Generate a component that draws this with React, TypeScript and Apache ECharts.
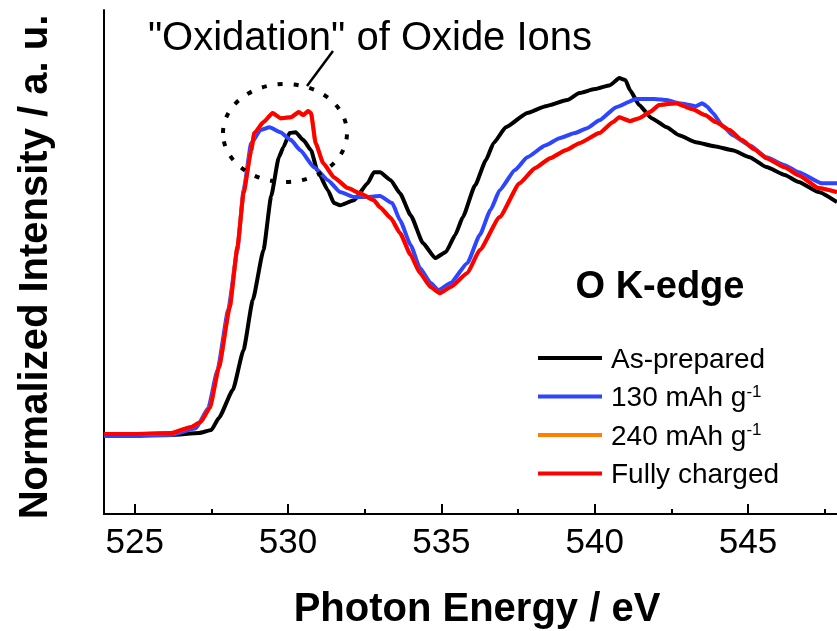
import React, { useEffect, useRef } from 'react';
import * as echarts from 'echarts';

// Photon energy (eV) and normalized intensity (a.u.)
const asPreparedE = [524.0, 525.0, 526.2, 527.1, 527.5, 527.75, 528.2, 528.55, 528.85, 529.2, 529.45, 529.7, 529.85, 530.05, 530.25, 530.5, 530.75, 530.95, 531.3, 531.5, 531.7, 532.15, 532.6, 532.8, 533.0, 533.35, 533.65, 534.0, 534.4, 534.8, 535.15, 535.45, 535.7, 536.1, 536.45, 536.7, 537.1, 537.8, 538.4, 539.1, 539.5, 540.0, 540.5, 540.8, 541.0, 541.15, 541.45, 541.85, 542.35, 542.75, 543.3, 543.9, 544.5, 545.05, 545.6, 546.2, 546.65, 547.3, 547.9];
const asPreparedI = [0.009, 0.009, 0.009, 0.015, 0.025, 0.065, 0.156, 0.287, 0.45, 0.614, 0.79, 0.918, 0.951, 0.997, 1.0, 0.974, 0.941, 0.876, 0.81, 0.768, 0.761, 0.777, 0.833, 0.869, 0.869, 0.843, 0.8, 0.728, 0.637, 0.588, 0.608, 0.663, 0.722, 0.826, 0.908, 0.964, 1.016, 1.063, 1.085, 1.105, 1.128, 1.141, 1.154, 1.177, 1.171, 1.138, 1.089, 1.046, 1.016, 0.99, 0.967, 0.954, 0.941, 0.918, 0.886, 0.86, 0.837, 0.804, 0.771];

const mAh130E = [524.0, 525.0, 526.2, 527.0, 527.4, 527.7, 528.05, 528.35, 528.55, 528.8, 529.1, 529.4, 529.75, 530.1, 530.4, 530.85, 531.3, 531.7, 532.15, 532.6, 533.0, 533.4, 533.65, 534.0, 534.3, 534.65, 534.9, 535.3, 535.85, 536.25, 536.6, 536.9, 537.4, 537.8, 538.4, 538.85, 539.35, 539.75, 540.15, 540.7, 541.35, 541.95, 542.35, 542.75, 543.1, 543.3, 543.5, 543.65, 543.85, 544.15, 544.5, 545.05, 545.6, 546.2, 546.65, 547.4, 547.9];
const mAh130I = [0.005, 0.005, 0.009, 0.031, 0.097, 0.221, 0.418, 0.614, 0.81, 0.964, 1.007, 1.016, 1.0, 0.974, 0.941, 0.885, 0.843, 0.804, 0.788, 0.788, 0.791, 0.768, 0.712, 0.63, 0.555, 0.506, 0.483, 0.506, 0.572, 0.663, 0.745, 0.81, 0.876, 0.918, 0.957, 0.98, 0.997, 1.013, 1.039, 1.082, 1.109, 1.109, 1.105, 1.095, 1.089, 1.085, 1.095, 1.085, 1.063, 1.023, 0.99, 0.957, 0.918, 0.892, 0.869, 0.833, 0.833];

// 240 mAh g-1 lies under the fully charged trace everywhere in the reference
const mAh240E = [524.0, 525.0, 526.2, 526.85, 527.15, 527.45, 527.75, 528.1, 528.35, 528.55, 528.8, 528.9, 529.2, 529.5, 529.75, 530.1, 530.35, 530.5, 530.65, 530.75, 530.9, 531.15, 531.5, 531.95, 532.35, 532.8, 533.0, 533.35, 533.65, 534.0, 534.3, 534.65, 534.95, 535.3, 535.85, 536.25, 536.9, 537.55, 538.05, 538.55, 539.05, 539.5, 540.15, 540.6, 540.8, 541.15, 541.45, 541.8, 542.1, 542.65, 543.2, 543.6, 543.95, 544.4, 544.8, 545.2, 545.6, 546.2, 546.65, 547.3, 547.9];
const mAh240I = [0.012, 0.012, 0.015, 0.035, 0.051, 0.097, 0.231, 0.427, 0.624, 0.8, 0.941, 0.997, 1.033, 1.063, 1.046, 1.049, 1.066, 1.056, 1.069, 1.063, 0.964, 0.898, 0.852, 0.817, 0.8, 0.777, 0.754, 0.719, 0.67, 0.598, 0.539, 0.493, 0.473, 0.493, 0.539, 0.614, 0.722, 0.833, 0.882, 0.915, 0.941, 0.964, 0.997, 1.033, 1.049, 1.036, 1.046, 1.066, 1.089, 1.095, 1.075, 1.056, 1.033, 1.007, 0.974, 0.944, 0.915, 0.885, 0.859, 0.817, 0.804];

const chargedE = [524.0, 525.0, 526.2, 526.85, 527.15, 527.45, 527.75, 528.1, 528.35, 528.55, 528.8, 528.9, 529.2, 529.5, 529.75, 530.1, 530.35, 530.5, 530.65, 530.75, 530.9, 531.15, 531.5, 531.95, 532.35, 532.8, 533.0, 533.35, 533.65, 534.0, 534.3, 534.65, 534.95, 535.3, 535.85, 536.25, 536.9, 537.55, 538.05, 538.55, 539.05, 539.5, 540.15, 540.6, 540.8, 541.15, 541.45, 541.8, 542.1, 542.65, 543.2, 543.6, 543.95, 544.4, 544.8, 545.2, 545.6, 546.2, 546.65, 547.3, 547.9];
const chargedI = [0.012, 0.012, 0.015, 0.035, 0.051, 0.097, 0.231, 0.427, 0.624, 0.8, 0.941, 0.997, 1.033, 1.063, 1.046, 1.049, 1.066, 1.056, 1.069, 1.063, 0.964, 0.898, 0.852, 0.817, 0.8, 0.777, 0.754, 0.719, 0.67, 0.598, 0.539, 0.493, 0.473, 0.493, 0.539, 0.614, 0.722, 0.833, 0.882, 0.915, 0.941, 0.964, 0.997, 1.033, 1.049, 1.036, 1.046, 1.066, 1.089, 1.095, 1.075, 1.056, 1.033, 1.007, 0.974, 0.944, 0.915, 0.885, 0.859, 0.817, 0.804];

const seriesNames = ['As-prepared', '130 mAh g-1', '240 mAh g-1', 'Fully charged'];
const seriesColors = ['#000000', '#2e45ff', '#ff8000', '#ff0000'];
const xMajorTicks = [525, 530, 535, 540, 545];
const xMinorTicks = [527.5, 532.5, 537.5, 542.5, 547.5];
const xTitle = 'Photon Energy / eV';
const yTitle = 'Normalized Intensity / a. u.';
const panelLabel = 'O K-edge';
const annotation = '"Oxidation" of Oxide Ions';

const FONT = '"Liberation Sans", Arial, sans-serif';

const zip = (xs: number[], ys: number[]) => xs.map((x, i) => [x, ys[i]]);

export default function App() {
  const ref = useRef<HTMLDivElement>(null);
  useEffect(() => {
    const chart = echarts.init(ref.current!, null, { renderer: 'svg' });
    const data = [
      zip(asPreparedE, asPreparedI),
      zip(mAh130E, mAh130I),
      zip(mAh240E, mAh240I),
      zip(chargedE, chargedI),
    ];
    const xMin = 524;
    const xMax = 547.9;
    chart.setOption({
      animation: false,
      grid: { left: 104, right: 0, top: 10, bottom: 117 },
      xAxis: [
        {
          type: 'value',
          min: xMin,
          max: xMax,
          position: 'bottom',
          axisLine: { show: true, onZero: false, lineStyle: { color: '#000', width: 2 } },
          axisTick: { show: true, inside: true, length: 10, customValues: xMajorTicks, lineStyle: { color: '#000', width: 2 } },
          axisLabel: { show: true, customValues: xMajorTicks, margin: 9, fontSize: 35, color: '#000', fontFamily: FONT },
          splitLine: { show: false },
        },
        {
          type: 'value',
          min: xMin,
          max: xMax,
          position: 'bottom',
          axisLine: { show: false, onZero: false },
          axisTick: { show: true, inside: true, length: 5, customValues: xMinorTicks, lineStyle: { color: '#000', width: 2 } },
          axisLabel: { show: false, customValues: xMinorTicks },
          splitLine: { show: false },
        },
      ],
      yAxis: {
        type: 'value',
        min: -0.25,
        max: 1.4,
        axisLine: { show: true, onZero: false, lineStyle: { color: '#000', width: 2 } },
        axisTick: { show: false },
        axisLabel: { show: false },
        splitLine: { show: false },
      },
      legend: {
        orient: 'vertical',
        left: 538,
        top: 344,
        padding: 0,
        icon: 'rect',
        itemWidth: 64,
        itemHeight: 4,
        itemGap: 10.5,
        selectedMode: false,
        data: seriesNames,
        formatter: (name: string) => name.replace(/ g-1$/, ' g{sup|-1}'),
        textStyle: {
          fontSize: 28,
          lineHeight: 28,
          color: '#000',
          fontFamily: FONT,
          padding: [0, 0, 0, 4],
          rich: {
            sup: { fontSize: 17, lineHeight: 28, verticalAlign: 'top', color: '#000', fontFamily: FONT },
          },
        },
      },
      series: seriesNames.map((name, i) => ({
        name,
        type: 'line',
        xAxisIndex: 0,
        data: data[i],
        showSymbol: false,
        symbol: 'none',
        smooth: 0.15,
        smoothMonotone: 'x',
        lineStyle: { width: 4, color: seriesColors[i] },
        itemStyle: { color: seriesColors[i] },
        emphasis: { disabled: true },
        z: 2 + i,
      })),
      graphic: [
        {
          type: 'text',
          x: 477,
          y: 607,
          style: { text: xTitle, fontSize: 40, fontWeight: 'bold', fontFamily: FONT, fill: '#000', align: 'center', verticalAlign: 'middle' },
        },
        {
          type: 'text',
          x: 33,
          y: 267,
          rotation: Math.PI / 2,
          style: { text: yTitle, fontSize: 40, fontWeight: 'bold', fontFamily: FONT, fill: '#000', align: 'center', verticalAlign: 'middle' },
        },
        {
          type: 'text',
          x: 660,
          y: 285,
          style: { text: panelLabel, fontSize: 38, fontWeight: 'bold', fontFamily: FONT, fill: '#000', align: 'center', verticalAlign: 'middle' },
        },
        {
          type: 'text',
          x: 370,
          y: 36,
          style: { text: annotation, fontSize: 40, fontFamily: FONT, fill: '#000', align: 'center', verticalAlign: 'middle' },
        },
        {
          type: 'line',
          shape: { x1: 307, y1: 86, x2: 333, y2: 51 },
          style: { stroke: '#000', lineWidth: 2.5 },
        },
        {
          type: 'ellipse',
          shape: { cx: 285, cy: 133, rx: 62, ry: 49 },
          style: { fill: 'none', stroke: '#000', lineWidth: 4, lineDash: [5, 11] },
          z: 100,
        },
      ],
    });
    return () => chart.dispose();
  }, []);
  return <div ref={ref} style={{ position: 'fixed', left: 0, top: 0, width: 837, height: 631 }} />;
}
